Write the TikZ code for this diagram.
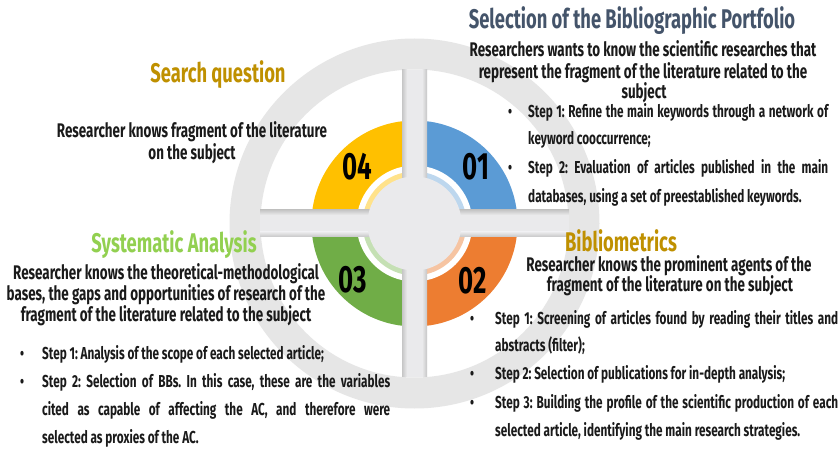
\documentclass[tikz,border=0pt]{standalone}
\usepackage{fontspec}
\setmainfont{Fira Sans}[FakeStretch=0.68]
\definecolor{ringgray}{HTML}{E6E6E6}
\definecolor{bargray}{HTML}{EAEAEC}
\definecolor{shadegray}{HTML}{C6C6C6}
\definecolor{cYel}{HTML}{FFC000}
\definecolor{cBlue}{HTML}{5B9BD5}
\definecolor{cGreen}{HTML}{70AD47}
\definecolor{cOrange}{HTML}{ED7D31}
\definecolor{lYel}{HTML}{FFE28A}
\definecolor{lBlue}{HTML}{BDD7EE}
\definecolor{lGreen}{HTML}{C5E0B4}
\definecolor{lOrange}{HTML}{F6C4A2}
\definecolor{cGold}{HTML}{BF9000}
\definecolor{cSlate}{HTML}{44546A}
\definecolor{cLime}{HTML}{92D050}
\definecolor{ink}{HTML}{1A1A1A}
\tikzset{
  ttl/.style={inner sep=0pt, font=\fontsize{27}{27}\selectfont\bfseries},
  dsc/.style={inner sep=0pt, text=ink, anchor=mid, font=\fontsize{19.7}{20}\selectfont\bfseries\frenchspacing},
  stp/.style={inner sep=0pt, text=ink, anchor=mid west, font=\fontsize{17.3}{18}\selectfont\bfseries\frenchspacing},
  bul/.style={inner sep=0pt, text=ink, anchor=mid, font=\fontsize{17}{17}\selectfont\bfseries},
  num/.style={inner sep=0pt, text=black, font=\fontsize{38}{38}\selectfont\bfseries}
}
\begin{document}
\begin{tikzpicture}[x=1pt,y=-1pt]
\useasboundingbox[fill=white] (0,0) rectangle (839,449);
\coordinate (c) at (414.5,223.5);
% outer ring
\fill[ringgray, even odd rule] (c) circle (185pt) (c) circle (154pt);
% coloured quadrants
\begin{scope}
  \clip (300,100) rectangle (414.5,223.5);
  \fill[cYel] (c) circle (103pt);
  \fill[white] (c) circle (58pt);
  \fill[lYel] (c) circle (52pt);
\end{scope}
\begin{scope}
  \clip (414.5,100) rectangle (530,223.5);
  \fill[cBlue] (c) circle (103pt);
  \fill[white] (c) circle (58pt);
  \fill[lBlue] (c) circle (52pt);
\end{scope}
\begin{scope}
  \clip (300,223.5) rectangle (414.5,340);
  \fill[cGreen] (c) circle (103pt);
  \fill[white] (c) circle (58pt);
  \fill[lGreen] (c) circle (52pt);
\end{scope}
\begin{scope}
  \clip (414.5,223.5) rectangle (530,340);
  \fill[cOrange] (c) circle (103pt);
  \fill[white] (c) circle (58pt);
  \fill[lOrange] (c) circle (52pt);
\end{scope}
% cross bars with shaded edges
\fill[bargray] (402,70) rectangle (427,377);
\fill[bargray] (260,210) rectangle (569,237);
\shade[left color=shadegray, right color=bargray] (402,70) rectangle (407,377);
\shade[left color=bargray, right color=shadegray] (422,70) rectangle (427,377);
\shade[top color=shadegray, bottom color=bargray] (260,210) rectangle (569,215);
\shade[top color=bargray, bottom color=shadegray] (260,232) rectangle (569,237);
\fill[bargray] (c) circle (47pt);
% numbers
\node[num] (n4) at (357,167) {04};
\node[num] (n1) at (476,167) {01};
\node[num] (n3) at (353,280) {03};
\node[num] (n2) at (473,281) {02};
% top right
\node[ttl,text=cSlate] (t1) at (632,21) {Selection of the Bibliographic Portfolio};
\node[dsc] (d1a) at (643,54) {Researchers wants to know the scientific researches that};
\node[dsc] (d1b) at (643,76) {represent the fragment of the literature related to the};
\node[dsc] (d1c) at (644,96) {subject};
\node[bul] (b1a) at (510,115) {\textbullet};
\node[bul] (b1b) at (510,171) {\textbullet};
\node[stp] (s1a) at (528,115) {\makebox[300pt][s]{Step 1: Refine the main keywords through a network of}};
\node[stp] (s1b) at (528,142) {keyword cooccurrence;};
\node[stp] (s1c) at (528,171) {\makebox[300pt][s]{Step 2: Evaluation of articles published in the main}};
\node[stp] (s1d) at (528,200) {databases, using a set of preestablished keywords.};
% top left
\node[ttl,text=cGold] (t4) at (218,75) {Search question};
\node[dsc] (d4a) at (192,135) {Researcher knows fragment of the literature};
\node[dsc] (d4b) at (192,157) {on the subject};
% bottom left
\node[ttl,text=cLime] (t3) at (174,245) {Systematic Analysis};
\node[dsc] (d3a) at (166,277) {Researcher knows the theoretical-methodological};
\node[dsc] (d3b) at (166,298) {bases, the gaps and opportunities of research of the};
\node[dsc] (d3c) at (166,319) {fragment of the literature related to the subject};
\node[bul] (b3a) at (22,357) {\textbullet};
\node[bul] (b3b) at (22,385) {\textbullet};
\node[stp] (s3a) at (42,357) {Step 1: Analysis of the scope of each selected article;};
\node[stp] (s3b) at (42,385) {\makebox[348pt][s]{Step 2: Selection of BBs. In this case, these are the variables}};
\node[stp] (s3c) at (42,413) {\makebox[348pt][s]{cited as capable of affecting the AC, and therefore were}};
\node[stp] (s3d) at (42,441) {selected as proxies of the AC.};
% bottom right
\node[ttl,text=cGold] (t2) at (621,240.5) {Bibliometrics};
\node[dsc] (d2a) at (669,268.5) {Researcher knows the prominent agents of the};
\node[dsc] (d2b) at (670,288.5) {fragment of the literature on the subject};
\node[bul] (b2a) at (472,322) {\textbullet};
\node[bul] (b2b) at (472,377) {\textbullet};
\node[bul] (b2c) at (472,406) {\textbullet};
\node[stp] (s2a) at (495,322) {\makebox[343pt][s]{Step 1: Screening of articles found by reading their titles and}};
\node[stp] (s2b) at (495,349) {abstracts (filter);};
\node[stp] (s2c) at (495,377) {Step 2: Selection of publications for in-depth analysis;};
\node[stp] (s2d) at (495,406) {\makebox[343pt][s]{Step 3: Building the profile of the scientific production of each}};
\node[stp] (s2e) at (495,434) {selected article, identifying the main research strategies.};
\end{tikzpicture}
\end{document}
